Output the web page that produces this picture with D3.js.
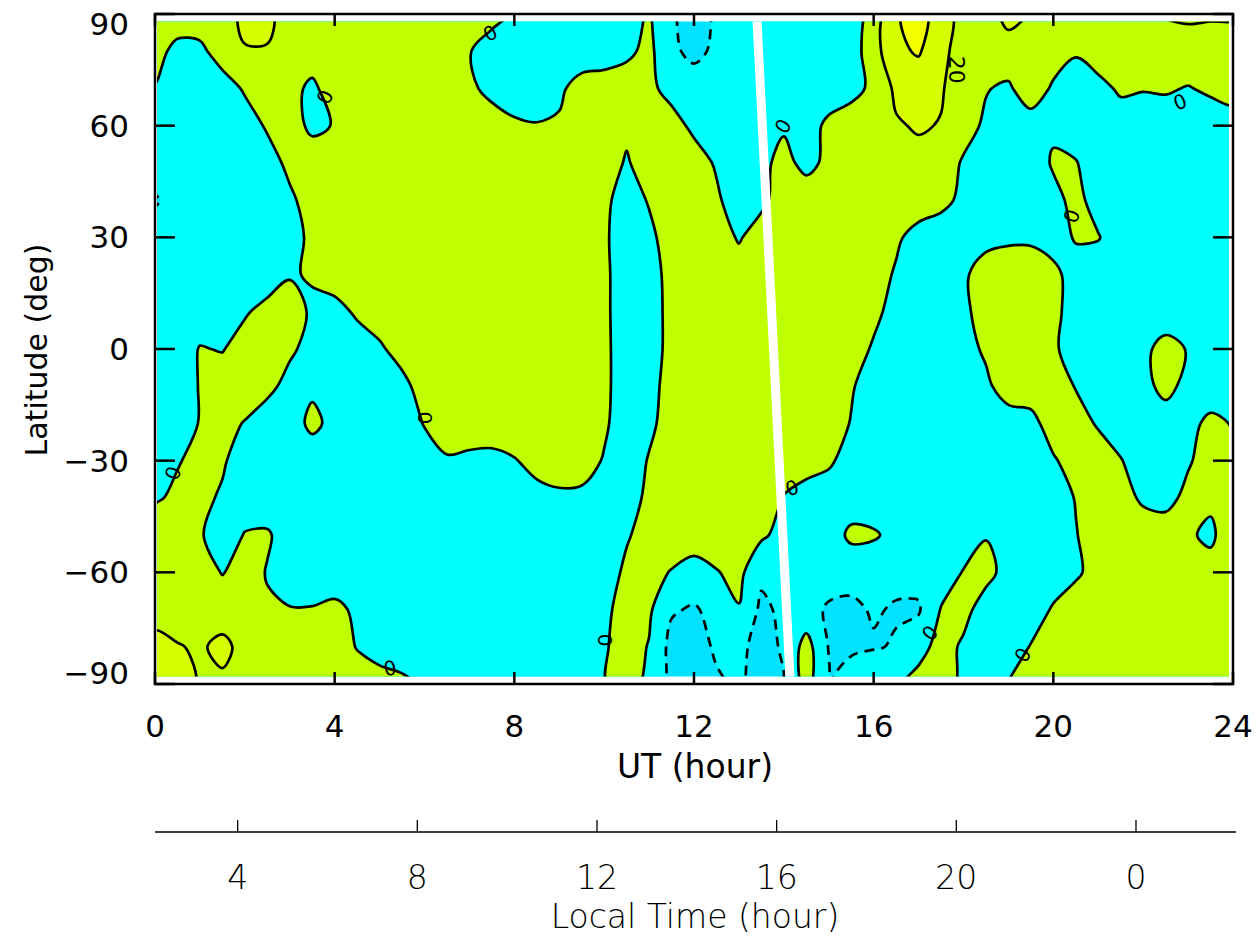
<!DOCTYPE html>
<html><head><meta charset="utf-8">
<script src="https://cdn.jsdelivr.net/npm/d3@7"></script>
<style>
html,body{margin:0;padding:0;background:#fff;}
svg{display:block;}
</style></head>
<body>
<svg id="chart" width="1258" height="938"></svg>
<script>
// ---- grid axes ----
const utGrid = [0,0.5,1,1.5,2,2.5,3,3.5,4,4.5,5,5.5,6,6.5,7,7.5,8,8.5,9,9.5,10,10.5,11,11.5,12,12.5,13,13.5,14,14.5,15,15.5,16,16.5,17,17.5,18,18.5,19,19.5,20,20.5,21,21.5,22,22.5,23,23.5,24];
const latGrid = [90,80,70,60,50,40,30,20,10,0,-10,-20,-30,-40,-50,-60,-70,-80,-90];

// ---- field values, one row per latitude ----
const lat90  = [10,10,10,12,24,24,12,10,10,10, 10,10,10,10,10,7,-3,-10,-10,-10, -10,-8,2,-18,-28,-18,-10,-10,-10,-10, -10,-12,8,38,48,30,12,10,26,18, 10,10,10,10,14,21,23,22,22];
const lat80  = [6,-5,-4,8,19,19,8,10,10,10, 10,10,10,10,1,-10,-10,-10,-10,-10, -10,-4,5,-17,-24,-17,-10,-10,-10,-10, -10,-10,12,36,42,26,10,10,12,10, 10,2,10,10,12,12,12,12,12];
const lat70  = [-1,-10,-10,-8,2,10,6,-4,10,10, 10,10,10,10,4,-6,-10,-10,-3,7, 10,10,4,-6,-12,-10,-10,-10,-10,-10, -10,-6,4,24,28,22,8,1,-3,12, -3,-10,-6,3,1,2,-1,3,5];
const lat60  = [-10,-10,-10,-10,-8,2,8,-4,1,10, 10,10,10,10,10,10,3,1,2,10, 10,4,10,7,-4,-10,-10,-6,-2,-8, 4,10,12,18,22,19,7,-3,-10,-10, -3,-10,-10,-10,-10,-10,-10,-10,-6];
const lat50  = [-10,-10,-10,-10,-10,-7,4,10,10,10, 10,10,10,10,10,10,10,10,10,10, 10,-2,10,10,8,-2,-10,-4,5,-5, 4,10,10,10,14,10,-2,-10,-10,-10, 2,1,-10,-10,-10,-10,-10,-10,-10];
const lat40  = [-22,-14,-10,-10,-10,-10,-3,7,10,10, 10,10,10,10,10,10,10,10,10,10, 3,-6,1,10,10,3,-10,-5,10,10, 10,10,10,10,10,5,-4,-10,-10,-10, -5,5,-7,-10,-10,-10,-10,-10,-10];
const lat30  = [-12,-10,-10,-10,-10,-10,-7,4,10,10, 10,10,10,10,10,10,10,10,10,10, 2,-7,-3,6,10,10,-2,10,10,10, 10,10,10,3,-7,-10,-10,-4,-3,-3, -5,1,1,-10,-10,-10,-10,-10,-10];
const lat20  = [-10,-10,-10,-10,-10,-10,-1,1,10,10, 10,10,10,10,10,10,10,10,10,10, 3,-8,-5,4,10,10,10,10,10,10, 10,10,8,-2,-10,-10,-2,6,10,10, 3,-5,-10,-10,-10,-10,-10,-10,-10];
const lat10  = [-10,-10,-10,-10,-2,6,6,-2,-7,3, 10,10,10,10,10,10,10,10,10,10, 3,-8,-6,4,10,10,10,10,10,10, 10,10,4,-6,-10,-10,-3,6,10,10, 3,-5,-10,-10,-10,-10,-10,-10,-10];
const lat0   = [-10,-10,1,-1,8,10,3,-6,-10,-10, -3,8,10,10,10,10,10,10,10,10, 3,-7,-6,4,10,10,10,10,10,10, 10,8,-2,-10,-10,-10,-7,3,10,10, 2,-6,-10,-10,-4,6,-1,-10,-10];
const latS10 = [-10,-10,1,10,10,5,-6,-3,-10,-10, -10,-6,9,10,10,10,10,10,10,10, 3,-7,-7,8,10,10,10,10,10,10, 10,2,-10,-10,-10,-10,-10,-4,10,10, 10,-1,-10,-10,-6,6,-6,-10,-10];
const latS20 = [-10,-10,1,6,-1,-10,-8,4,-5,-10, -10,-10,1,10,10,10,10,10,10,10, 2,-7,-3,6,10,10,10,10,10,10, 10,-1,-10,-10,-10,-10,-10,-10,-10,-6, 9,8,-2,-10,-10,-10,-5,4,-1];
const latS30 = [-5,-1,4,2,-8,-10,-10,-10,-10,-10, -10,-10,-8,-2,-4,-5,-1,5,8,6, -1,-8,1,10,10,10,10,10,10,10, 3,-8,-10,-10,-10,-10,-10,-10,-10,-10, -2,8,10,1,-10,-10,-2,8,2];
const latS40 = [-2,3,4,-2,-10,-10,-10,-10,-10,-10, -10,-10,-10,-10,-10,-10,-8,-5,-3,-3, -6,-6,3,10,10,10,10,10,-1,-10, -10,-10,-10,-10,-10,-10,-10,-10,-10,-10, -10,1,10,7,-3,-6,5,3,10];
const latS50 = [10,8,2,-10,1,2,-8,-10,-10,-10, -10,-10,-10,-10,-10,-10,-10,-10,-10,-10, -10,-2,8,10,10,10,10,3,-6,-10, -10,4,2,-5,-10,-10,-10,-1,-10,-10, -10,-1,10,10,10,10,2,-3,10];
const latS60 = [10,10,10,-1,8,-1,-10,-10,-10,-10, -10,-10,-10,-10,-10,-10,-10,-10,-10,-10, -10,4,6,-1,-8,-1,5,-16,-12,-10, -13,-13,-12,-14,-14,-10,1,6,-7,-10, -10,-3,7,10,10,10,10,6,10];
const latS70 = [15,12,10,12,10,2,1,1,4,-3, -10,-10,-10,-10,-10,-10,-10,-10,-10,-10, -5,9,3,-18,-22,-14,-1,-24,-16,-14, -22,-24,-18,-22,-22,1,6,-9,-10,-10, 2,10,10,10,10,10,10,10,10];
const latS80 = [24,21,18,24,15,10,10,10,10,-1, -10,-10,-10,-10,-10,-10,-10,-10,-10,-10, -2,8,-1,-26,-26,-18,-16,-26,-18,8, -21,-24,-22,-18,-8,8,-3,-10,-10,1, 10,10,10,10,10,10,10,10,10];
const latS90 = [26,25,19,17,12,10,10,10,10,10, 10,4,-3,-10,-10,-10,-10,-10,-10,-10, -1,10,-6,-26,-28,-22,-18,-26,-21,8, -22,-8,4,-4,8,8,-4,-10,1,10, 10,10,10,10,10,10,10,10,10];
const fieldRows = [lat90,lat80,lat70,lat60,lat50,lat40,lat30,lat20,lat10,lat0,latS10,latS20,latS30,latS40,latS50,latS60,latS70,latS80,latS90];

// ---- contour levels and colours ----
const levels = [-20, 0, 20, 40];
const bandColors = ["#00FFFF", "#C0FF00", "#D6FF00", "#F4FF00"];
const belowColor = "#00E2FF";

// ---- axes ----
const utTicks = [0,4,8,12,16,20,24];
const latTicks = [90,60,30,0,-30,-60,-90];
const latTickLabels = ["90","60","30","0","\u221230","\u221260","\u221290"];
const ltTicks = [4,8,12,16,20,24];
const ltTickLabels = ["4","8","12","16","20","0"];
const ltOffset = 2.16; // local time minus UT, hours

// ---- data gap (white stripe) ----
const gapUT = [13.40, 14.14];
const gapLat = [88, -88];

// ---- contour labels ----
const labelUT    = [0.40, 3.78, 7.46, 6.01, 10.02, 13.98, 20.41, 22.82, 17.25, 19.32, 5.23, 14.18, 17.85];
const labelLat   = [-33.3, 67.7, 84.9, -18.5, -78.2, 59.9, 35.7, 66.4, -76.3, -82.2, -85.7, -37.3, 75.0];
const labelText  = ["0","0","0","0","0","0","0","0","0","0","0","0","20"];
const labelAngle = [-70, -65, -30, -90, -90, -60, -70, -20, -50, -60, -10, -20, 90];

// ================= drawing =================
const svg = d3.select("#chart");
const x = d3.scaleLinear().domain([0, 24]).range([155, 1233]);
const y = d3.scaleLinear().domain([-90, 90]).range([684, 14]);

const nx = utGrid.length, ny = latGrid.length;
const values = [].concat(...fieldRows);
const dUT = utGrid[1] - utGrid[0];
const dLat = latGrid[0] - latGrid[1];

// grid coordinate -> pixel
const gx = px => x(utGrid[0] + (px - 0.5) * dUT);
const gy = py => y(latGrid[0] - (py - 0.5) * dLat);
const ringLine = d3.line().curve(d3.curveCatmullRomClosed.alpha(0.5));
function contourPath(mp) {
  let s = "";
  mp.coordinates.forEach(poly => {
    poly.forEach(ring => {
      const pts = ring.slice(0, ring.length - 1).map(p => [gx(p[0]), gy(p[1])]);
      if (pts.length > 2) s += ringLine(pts);
    });
  });
  return s;
}

const contours = d3.contours().size([nx, ny]).thresholds(levels)(values);

svg.append("clipPath").attr("id", "plotclip")
  .append("rect").attr("x", 157).attr("y", y(88)).attr("width", 1229 - 157).attr("height", y(-88) - y(88));

const plot = svg.append("g").attr("clip-path", "url(#plotclip)");
plot.append("rect").attr("x", 150).attr("y", 10).attr("width", 1090).attr("height", 680).attr("fill", belowColor);

plot.selectAll("path.band").data(contours).enter().append("path")
  .attr("class", "band")
  .attr("d", contourPath)
  .attr("fill", (d, i) => bandColors[i])
  .attr("stroke", "none");

plot.selectAll("path.iso").data(contours).enter().append("path")
  .attr("class", "iso")
  .attr("d", contourPath)
  .attr("fill", "none")
  .attr("stroke", "#000")
  .attr("stroke-width", 2.7)
  .attr("stroke-linejoin", "round")
  .attr("stroke-dasharray", d => d.value < 0 ? "10,7" : null);

// contour labels
plot.selectAll("text.clab").data(labelUT.map((u, i) => i)).enter().append("text")
  .attr("class", "clab")
  .attr("transform", i => `translate(${x(labelUT[i])},${y(labelLat[i])}) rotate(${labelAngle[i]})`)
  .attr("text-anchor", "middle")
  .attr("dy", "0.36em")
  .attr("font-family", "DejaVu Sans, sans-serif")
  .attr("font-weight", 400)
  .attr("font-size", i => labelText[i].length > 1 ? 22 : 20)
  .attr("fill", "#000")
  .text(i => labelText[i]);

// white data-gap stripe
plot.append("line")
  .attr("x1", x(gapUT[0])).attr("y1", y(gapLat[0]) - 4)
  .attr("x2", x(gapUT[1])).attr("y2", y(gapLat[1]) + 4)
  .attr("stroke", "#fff").attr("stroke-width", 9);

// frame
svg.append("rect").attr("x", x(0)).attr("y", y(90)).attr("width", x(24) - x(0)).attr("height", y(-90) - y(90))
  .attr("fill", "none").attr("stroke", "#000").attr("stroke-width", 2.5);

// ticks
const tk = svg.append("g").attr("stroke", "#000").attr("stroke-width", 2.5);
utTicks.forEach(t => {
  tk.append("line").attr("x1", x(t)).attr("x2", x(t)).attr("y1", y(-90)).attr("y2", y(-90) - 12);
  tk.append("line").attr("x1", x(t)).attr("x2", x(t)).attr("y1", y(90)).attr("y2", y(90) + 12);
});
latTicks.forEach(t => {
  tk.append("line").attr("x1", x(0)).attr("x2", x(0) + 20).attr("y1", y(t)).attr("y2", y(t));
  tk.append("line").attr("x1", x(24)).attr("x2", x(24) - 20).attr("y1", y(t)).attr("y2", y(t));
});

const labelFont = "DejaVu Sans, Verdana, sans-serif";
// y tick labels
svg.selectAll("text.ylab").data(latTicks).enter().append("text")
  .attr("x", 129)
  .attr("y", d => Math.min(Math.max(y(d), 24), 673))
  .attr("dy", "0.36em")
  .attr("text-anchor", "end")
  .attr("font-family", labelFont).attr("font-size", 31).attr("fill", "#000")
  .text((d, i) => latTickLabels[i]);

// x tick labels
svg.selectAll("text.xlab").data(utTicks).enter().append("text")
  .attr("x", d => x(d))
  .attr("y", 726)
  .attr("dy", "0.36em")
  .attr("text-anchor", "middle")
  .attr("font-family", labelFont).attr("font-size", 31).attr("fill", "#000")
  .text(d => d);

svg.append("text").attr("x", 695).attr("y", 778).attr("text-anchor", "middle")
  .attr("font-family", labelFont).attr("font-size", 33).attr("fill", "#000")
  .text("UT (hour)");

svg.append("text").attr("transform", "translate(47,350) rotate(-90)").attr("text-anchor", "middle")
  .attr("font-family", labelFont).attr("font-size", 30).attr("fill", "#000")
  .text("Latitude (deg)");

// local time axis
const ltY = 832;
const lt = svg.append("g");
lt.append("line").attr("x1", 155).attr("x2", 1236).attr("y1", ltY).attr("y2", ltY)
  .attr("stroke", "#000").attr("stroke-width", 1.3);
ltTicks.forEach((t, i) => {
  const xx = x(t - ltOffset);
  lt.append("line").attr("x1", xx).attr("x2", xx).attr("y1", ltY).attr("y2", ltY - 12)
    .attr("stroke", "#000").attr("stroke-width", 1.3);
  lt.append("text").attr("x", xx).attr("y", 877).attr("dy", "0.36em").attr("text-anchor", "middle")
    .attr("font-family", "DejaVu Sans, sans-serif").attr("font-weight", 200)
    .attr("font-size", 33).attr("fill", "#000").text(ltTickLabels[i]);
});
lt.append("text").attr("x", 695).attr("y", 928).attr("text-anchor", "middle")
  .attr("font-family", "DejaVu Sans, sans-serif").attr("font-weight", 200)
  .attr("font-size", 33).attr("fill", "#000").text("Local Time (hour)");
</script>
</body></html>
